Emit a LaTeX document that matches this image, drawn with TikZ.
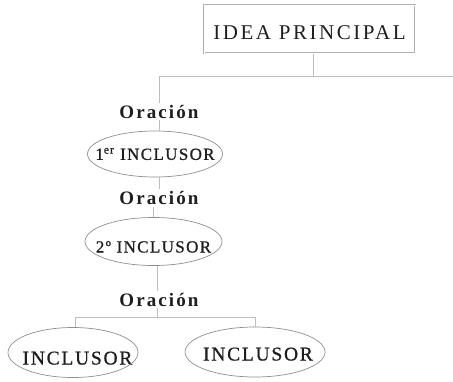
\documentclass[tikz,border=0pt]{standalone}
\usepackage{fontspec}
\setmainfont{Liberation Serif}
\definecolor{ink}{HTML}{1E1E1E}
\definecolor{linegray}{HTML}{BDBDBD}
\definecolor{ellgray}{HTML}{8E8E8E}
\definecolor{boxgray}{HTML}{B0B0B0}
\begin{document}
\begin{tikzpicture}[x=1pt,y=-1pt,
  conn/.style={draw=linegray, line width=0.7pt},
  ideabox/.style={draw=boxgray, line width=1pt, double=white, double distance=0.6pt,
    inner sep=0pt, minimum width=211pt, minimum height=48pt, text=ink,
    text height=20pt, text depth=0pt,
    font=\fontsize{21}{24}\selectfont\addfontfeature{LetterSpace=12}},
  oracion/.style={text=ink, inner sep=2pt, anchor=base,
    font=\fontsize{19}{21}\selectfont\bfseries\addfontfeature{LetterSpace=11}},
  inclA/.style={text=ink, inner sep=0pt,
    font=\fontsize{17}{19}\selectfont\addfontfeature{LetterSpace=8,FakeBold=0.8}},
  inclB/.style={text=ink, inner sep=0pt,
    font=\fontsize{19.5}{22}\selectfont\addfontfeature{LetterSpace=9,FakeBold=0.8}},
  ell/.style={draw=ellgray, line width=0.7pt}
]
\useasboundingbox (0,0) rectangle (453,381);

% top box
\node[ideabox] (idea) at (309.5,29) {IDEA PRINCIPAL};

% Oraciones
\node[oracion] (o1) at (159,118) {Oración};
\node[oracion] (o2) at (159,204.5) {Oración};
\node[oracion] (o3) at (159,306) {Oración};

% inclusores (rectangular frames sized like the ellipses)
\node[inclA, minimum width=135pt, minimum height=46pt] (e1) at (155,154) {1\textsuperscript{er} INCLUSOR};
\draw[ell] (e1.center) ellipse [x radius=67.5pt, y radius=23pt];

\node[inclA, minimum width=137pt, minimum height=48pt, text height=22pt, text depth=0pt] (e2) at (153.5,241.5) {2º INCLUSOR};
\draw[ell] (e2.center) ellipse [x radius=68.5pt, y radius=24pt];

\node[inclB, minimum width=130pt, minimum height=50pt, text height=24pt, text depth=0pt] (e3) at (73,352.5) {\hspace*{9pt}INCLUSOR};
\draw[ell] (e3.center) ellipse [x radius=65pt, y radius=25pt];

\node[inclB, minimum width=140pt, minimum height=50pt, text height=17pt, text depth=0pt] (e4) at (255,352) {\hspace*{6pt}INCLUSOR};
\draw[ell] (e4.center) ellipse [x radius=70pt, y radius=25pt];

% junction coordinates
\coordinate (jtop) at (313,76);
\coordinate (jleft) at (159,76);
\coordinate (jright) at (453,76);
\coordinate (jbot) at (157,317);
\coordinate (jbl) at (75,317);
\coordinate (jbr) at (255,317);

% connectors
\draw[conn] (idea.south -| jtop) -- (jtop);
\draw[conn] (jright) -- (jleft) -- (o1.north);
\draw[conn] (o1.south) -- (e1.north -| o1.south);
\draw[conn] (e1.south -| o1.south) -- (o2.north);
\draw[conn] (o2.south -| e2.north) -- (e2.north);
\draw[conn] (e2.south -| jbot) -- (o3.north -| jbot);
\draw[conn] (o3.south -| jbot) -- (jbot);
\draw[conn] (jbl) -- (jbr);
\draw[conn] (jbl) -- (jbl |- e3.north);
\draw[conn] (jbr) -- (jbr |- e4.north);
\end{tikzpicture}
\end{document}
